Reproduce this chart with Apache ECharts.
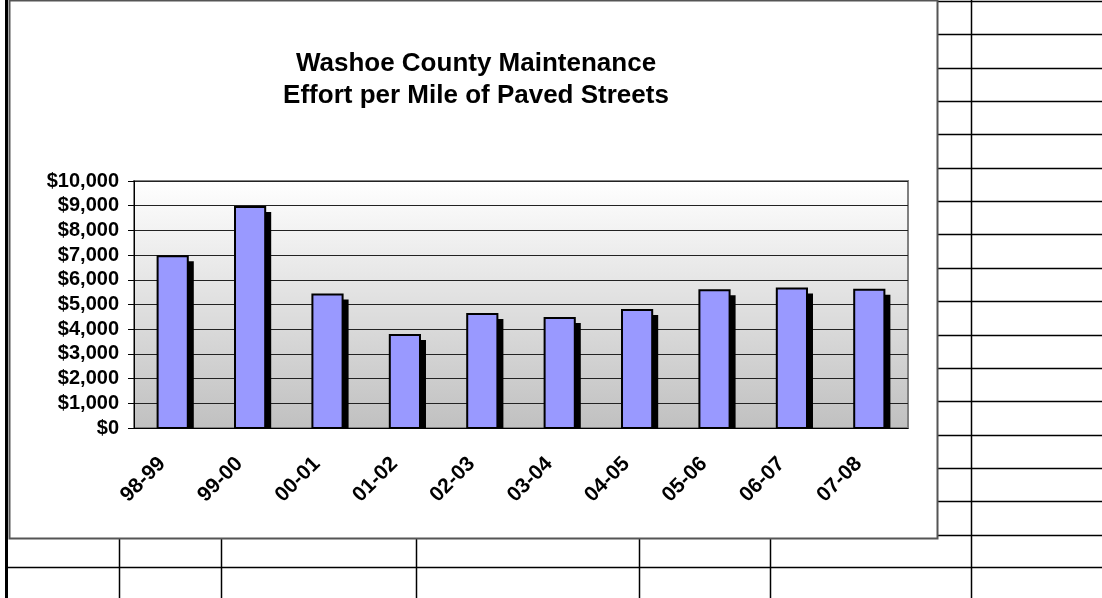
<!DOCTYPE html>
<html>
<head>
<meta charset="utf-8">
<title>Washoe County Maintenance</title>
<script src="https://cdn.jsdelivr.net/npm/echarts@6/dist/echarts.min.js"></script>
<style>
html, body { margin: 0; padding: 0; background: #fff; }
#main { width: 1102px; height: 598px; }
</style>
</head>
<body>
<div id="main"></div>
<script>
// fiscal years and $ per mile of paved street
var years = ['98-99', '99-00', '00-01', '01-02', '02-03', '03-04', '04-05', '05-06', '06-07', '07-08'];
var effort = [6950, 8950, 5400, 3770, 4620, 4450, 4780, 5580, 5650, 5600];
var yMax = 10000;
var yStep = 1000;

var font = '"Liberation Sans", Arial, sans-serif';

// spreadsheet cells behind the chart object
var sheet = [];
sheet.push({ type: 'rect', z: -2, shape: { x: 5, y: 0, width: 3, height: 598 }, style: { fill: '#000' } });
sheet.push({ type: 'line', z: -2, shape: { x1: 971.5, y1: 0, x2: 971.5, y2: 598 }, style: { stroke: '#000', lineWidth: 1.5 } });
for (var k = 0; k <= 16; k++) {
	var ry = Math.round(1 + k * 33.35) + 0.5;
	sheet.push({ type: 'line', z: -2, shape: { x1: 938, y1: ry, x2: 1102, y2: ry }, style: { stroke: '#000', lineWidth: 1.5 } });
}
sheet.push({ type: 'line', z: -2, shape: { x1: 8, y1: 567.5, x2: 1102, y2: 567.5 }, style: { stroke: '#000', lineWidth: 1.5 } });
[119.5, 221.5, 416.5, 639.5, 770.5].forEach(function(cx) {
	sheet.push({ type: 'line', z: -2, shape: { x1: cx, y1: 539, x2: cx, y2: 598 }, style: { stroke: '#000', lineWidth: 1.5 } });
});
// the chart area itself
sheet.push({ type: 'rect', z: -1, shape: { x: 9.5, y: 0.5, width: 928, height: 538 }, style: { fill: '#fff', stroke: '#555', lineWidth: 2 } });

// bar with a hard black drop shadow, clipped at the floor
function drawBar(params, api) {
	var zero = api.coord([api.value(0), 0]);
	var top = api.coord([api.value(0), api.value(1)]);
	var w = api.size([1, 0])[0] * 0.39;
	var x = top[0] - w / 2;
	return {
		type: 'group',
		children: [
			{ type: 'rect', shape: { x: x + 6, y: top[1] + 5, width: w, height: zero[1] - top[1] - 5 }, style: { fill: '#000' } },
			{ type: 'rect', shape: { x: x, y: top[1], width: w, height: zero[1] - top[1] }, style: { fill: '#9999ff', stroke: '#000', lineWidth: 2 } }
		]
	};
}

var myChart = echarts.init(document.getElementById('main'));
myChart.setOption({
	animation: false,
	graphic: sheet,
	title: {
		text: 'Washoe County Maintenance\nEffort per Mile of Paved Streets',
		left: 476,
		top: 48,
		padding: 0,
		textAlign: 'center',
		textStyle: {
			fontFamily: font,
			fontSize: 26,
			fontWeight: 'bold',
			color: '#000',
			lineHeight: 32
		}
	},
	grid: {
		left: 134,
		right: 194,
		top: 181,
		bottom: 170,
		show: true,
		borderColor: '#808080',
		borderWidth: 2,
		backgroundColor: new echarts.graphic.LinearGradient(0, 0, 0, 1, [
			{ offset: 0, color: '#ffffff' },
			{ offset: 1, color: '#c0c0c0' }
		])
	},
	xAxis: {
		type: 'category',
		data: years,
		axisLine: { lineStyle: { color: '#000', width: 1 } },
		axisTick: { length: 6, lineStyle: { color: '#000' } },
		axisLabel: {
			interval: 0,
			rotate: 45,
			margin: 22,
			padding: [0, 15, 0, 0],
			fontFamily: font,
			fontSize: 21,
			fontWeight: 'bold',
			color: '#000'
		}
	},
	yAxis: {
		type: 'value',
		min: 0,
		max: yMax,
		interval: yStep,
		axisLine: { show: true, lineStyle: { color: '#000', width: 1 } },
		axisTick: { show: true, length: 6, lineStyle: { color: '#000' } },
		splitLine: { lineStyle: { color: '#222', width: 1 } },
		axisLabel: {
			margin: 15,
			fontFamily: font,
			fontSize: 20,
			fontWeight: 'bold',
			color: '#000',
			formatter: function(v) {
				return '$' + v.toLocaleString('en-US');
			}
		}
	},
	series: [{
		name: 'Effort per Mile',
		type: 'custom',
		renderItem: drawBar,
		encode: { x: 0, y: 1 },
		data: years.map(function(y, i) { return [y, effort[i]]; })
	}]
});
</script>
</body>
</html>
